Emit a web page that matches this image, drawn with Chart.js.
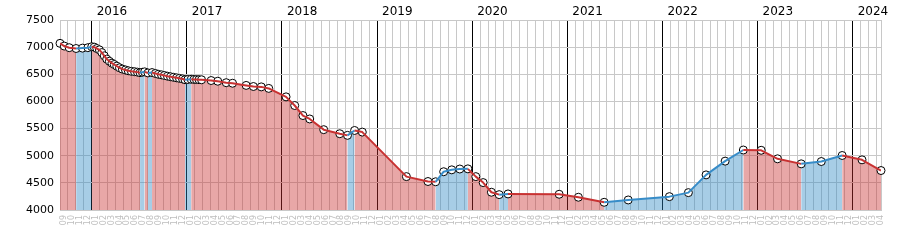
<!DOCTYPE html>
<html><head><meta charset="utf-8">
<script src="https://cdn.jsdelivr.net/npm/chart.js@4.4.1/dist/chart.umd.min.js"></script>
<style>html,body{margin:0;padding:0;background:#fff}canvas{display:block}</style>
</head><body>
<canvas id="c" width="900" height="250"></canvas>
<script>
// ---- data ----
const dates = [
  '2015-09-01','2015-09-17','2015-10-06','2015-11-02','2015-11-26','2015-12-17','2016-01-01',
  '2016-01-11','2016-01-21','2016-01-31','2016-02-09','2016-02-18','2016-02-27','2016-03-08',
  '2016-03-18','2016-03-27','2016-04-06','2016-04-16','2016-04-27','2016-05-09','2016-05-20',
  '2016-06-01','2016-06-13','2016-06-24','2016-07-04','2016-07-13','2016-07-22','2016-08-04',
  '2016-08-20','2016-09-02','2016-09-13','2016-09-25','2016-10-06','2016-10-18','2016-10-30',
  '2016-11-10','2016-11-22','2016-12-03','2016-12-15','2016-12-25','2017-01-05','2017-01-18',
  '2017-01-29','2017-02-07','2017-02-16','2017-02-25','2017-04-03','2017-04-28','2017-05-31',
  '2017-06-24','2017-08-16','2017-09-13','2017-10-13','2017-11-11','2018-01-17','2018-02-18',
  '2018-03-21','2018-04-16','2018-06-09','2018-08-10','2018-09-09','2018-10-06','2018-11-05',
  '2019-04-22','2019-07-14','2019-08-13','2019-09-13','2019-10-14','2019-11-14','2019-12-15',
  '2020-01-15','2020-02-12','2020-03-14','2020-04-13','2020-05-17','2020-11-30','2021-02-12',
  '2021-05-21','2021-08-22','2022-01-28','2022-04-09','2022-06-16','2022-08-29','2022-11-07',
  '2023-01-15','2023-03-17','2023-06-16','2023-09-02','2023-11-21','2024-02-06','2024-04-18'
];
const prices = [
  7070,7020,6990,6975,6982,6990,7008,
  7000,6975,6950,6900,6840,6780,6740,
  6705,6680,6650,6620,6595,6580,6565,
  6555,6548,6540,6530,6538,6545,6525,
  6532,6515,6500,6490,6478,6465,6455,
  6445,6435,6425,6415,6400,6404,6408,
  6405,6403,6401,6399,6385,6372,6345,
  6335,6295,6275,6268,6240,6084,5925,
  5740,5677,5480,5405,5375,5465,5435,
  4615,4525,4520,4705,4740,4755,4758,
  4615,4505,4327,4283,4296,4290,4235,
  4142,4185,4246,4320,4647,4900,5105,
  5100,4943,4850,4893,5004,4924,4727
];
const yearLabels = ['2016','2017','2018','2019','2020','2021','2022','2023','2024'];
const monthLabels = ['01','02','03','04','05','06','07','08','09','10','11','12'];
const yTickValues = [4000,4500,5000,5500,6000,6500,7000,7500];
const axisStart = '2015-09-01';
const axisEnd = '2024-04-18';

// ---- helpers ----
function monthIndex(s){
  const [y,m,d] = s.split('-').map(Number);
  const dim = new Date(y, m, 0).getDate();
  return (y-2016)*12 + (m-1) + (d-1)/dim;
}
const xMin = monthIndex(axisStart), xMax = monthIndex(axisEnd);
const points = dates.map((d,i)=>({x: monthIndex(d), y: prices[i]}));

const RED_LINE = 'rgb(200,50,50)', BLUE_LINE = 'rgb(55,140,200)';
const RED_FILL = 'rgba(200,45,45,0.42)', BLUE_FILL = 'rgba(45,135,195,0.42)';
const GRID = 'rgb(200,200,200)';
const up = c => c.p1.parsed.y > c.p0.parsed.y;

const monthTicks = [];
for (let m = Math.floor(xMin); m <= Math.floor(xMax); m++) monthTicks.push({value: m + 0.5});
const yearTicks = yearLabels.map(y => ({value: (Number(y)-2016)*12 + 2.55}));

new Chart(document.getElementById('c'), {
  type: 'line',
  data: {
    datasets: [
      { // filled area
        data: points, order: 3, fill: 'start', borderWidth: 0, pointRadius: 0,
        backgroundColor: RED_FILL,
        segment: { backgroundColor: c => up(c) ? BLUE_FILL : RED_FILL }
      },
      { // markers
        data: points, order: 2, showLine: false, fill: false, clip: false,
        pointRadius: 4, pointBorderWidth: 1, pointBorderColor: '#000', pointBackgroundColor: '#fff'
      },
      { // line on top
        data: points, order: 1, fill: false, borderWidth: 2, pointRadius: 0,
        borderColor: RED_LINE, borderJoinStyle: 'round',
        segment: { borderColor: c => up(c) ? BLUE_LINE : RED_LINE }
      }
    ]
  },
  options: {
    responsive: false, animation: false, events: [],
    layout: { padding: { left: 0, right: 19, top: 0, bottom: 0 } },
    plugins: { legend: { display: false }, tooltip: { enabled: false } },
    scales: {
      x: {
        type: 'linear', position: 'bottom', min: xMin, max: xMax,
        afterBuildTicks: s => { s.ticks = monthTicks.map(t => ({value: t.value})); },
        afterFit: s => { s.height = 40; },
        ticks: {
          autoSkip: false, maxRotation: 90, minRotation: 90, padding: 5,
          color: 'rgb(190,190,190)', font: { family: 'DejaVu Sans', size: 8 },
          callback: v => monthLabels[((Math.floor(v) % 12) + 12) % 12]
        },
        grid: {
          offset: true, drawTicks: false, lineWidth: 1,
          color: c => (c.tick && ((Math.floor(c.tick.value) % 12) + 12) % 12 === 0) ? '#000' : GRID
        },
        border: { color: GRID }
      },
      xTop: {
        type: 'linear', position: 'top', min: xMin, max: xMax,
        afterBuildTicks: s => { s.ticks = yearTicks.map(t => ({value: t.value})); },
        afterFit: s => { s.height = 20; },
        ticks: {
          autoSkip: false, maxRotation: 0, minRotation: 0, padding: -7,
          color: '#000', font: { family: 'DejaVu Sans', size: 12 },
          callback: (v, i) => yearLabels[i]
        },
        grid: { display: false },
        border: { display: false }
      },
      y: {
        type: 'linear', position: 'left', min: 4000, max: 7500,
        afterBuildTicks: s => { s.ticks = yTickValues.map(v => ({value: v})); },
        afterFit: s => { s.width = 60; },
        ticks: { padding: 6, color: '#000', font: { family: 'DejaVu Sans', size: 11 },
                 callback: v => String(v) },
        grid: { color: GRID, drawTicks: false },
        border: { color: GRID }
      },
      yRight: {
        type: 'linear', position: 'right', min: 4000, max: 7500,
        afterFit: s => { s.width = 0; },
        ticks: { display: false },
        grid: { drawOnChartArea: false, drawTicks: false },
        border: { color: GRID }
      }
    }
  }
});
</script>
</body></html>
